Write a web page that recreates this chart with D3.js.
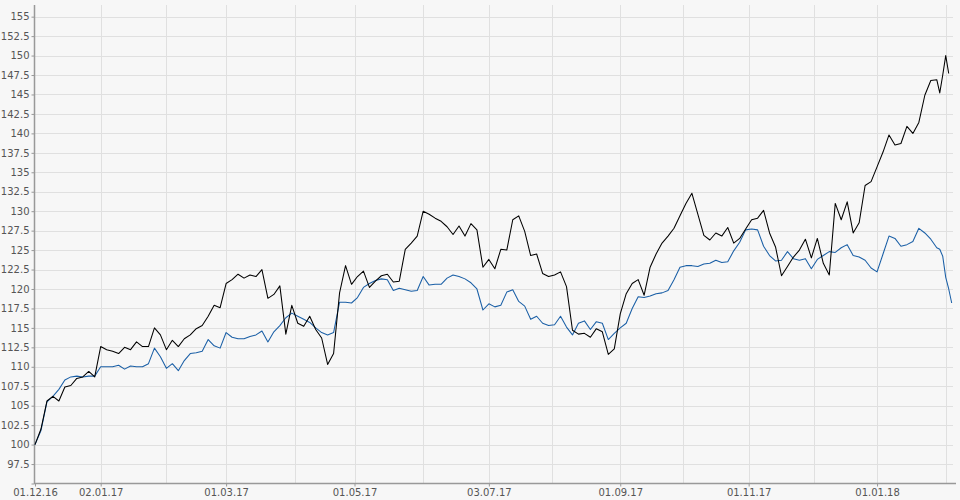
<!DOCTYPE html>
<html><head><meta charset="utf-8">
<script src="https://cdn.jsdelivr.net/npm/d3@7"></script>
<style>body{margin:0;background:#f7f7f7;} svg{display:block}</style>
</head><body><svg id="c" width="960" height="500"></svg>
<script>
// weekday index (0 = 01.12.16) of each sampled point
const days = [0,2,4,6,8,10,12,14,16,18,20,22,24,26,28,30,32,34,36,38,40,42,44,46,48,50,52,54,56,58,
60,62,64,66,68,70,72,74,76,78,80,82,84,86,88,90,92,94,96,98,100,102,104,106,108,110,112,114,116,118,
120,122,124,126,128,130,132,134,136,138,140,142,144,146,148,150,152,154,156,158,160,162,164,166,168,170,172,174,176,178,
180,182,184,186,188,190,192,194,196,198,200,202,204,206,208,210,212,214,216,218,220,222,224,226,228,230,232,234,236,238,
240,242,244,246,248,250,252,254,256,258,260,262,264,266,268,270,272,274,276,278,280,282,284,286,288,290,292,294,296,298,
300,302,303,304,305,306,307];
const seriesBlack = [
100.0,102.0,105.6,106.2,105.6,107.4,107.6,108.5,108.7,109.4,
108.7,112.6,112.2,112.0,111.7,112.5,112.2,113.2,112.6,112.6,
115.0,114.1,112.2,113.4,112.6,113.6,114.1,114.9,115.3,116.5,
117.9,117.6,120.7,121.2,121.9,121.4,121.8,121.6,122.5,118.8,
119.3,120.4,114.2,117.9,115.6,115.2,116.5,114.8,113.7,110.3,
111.7,119.5,123.0,120.6,121.6,122.3,120.2,121.0,121.7,121.9,
120.9,121.0,125.1,125.9,126.8,130.0,129.6,129.1,128.7,128.0,
127.0,128.1,126.8,128.4,127.6,122.8,123.8,122.6,125.1,125.0,
128.9,129.4,127.4,124.3,124.5,122.0,121.6,121.8,122.2,120.3,
114.7,114.2,114.3,113.8,114.9,114.5,111.6,112.3,116.8,119.4,
120.7,121.2,119.2,122.8,124.5,125.9,126.8,127.8,129.4,131.0,
132.3,129.6,126.9,126.3,127.2,126.8,127.9,125.9,126.5,127.7,
128.9,129.1,130.1,127.2,125.4,121.7,122.9,124.1,125.0,126.4,
124.0,126.5,123.3,121.8,131.0,128.9,131.2,127.2,128.5,133.3,
133.8,135.7,137.6,139.8,138.5,138.7,140.9,140.0,141.4,144.9,
146.8,146.9,145.2,147.5,150.0,147.7,null];
const seriesBlue = [
100.0,101.8,105.5,106.2,107.1,108.3,108.7,108.8,108.7,108.8,
108.8,110.0,110.0,110.0,110.2,109.7,110.1,110.0,110.0,110.4,
112.4,111.3,109.8,110.4,109.5,110.8,111.7,111.8,112.0,113.5,
112.7,112.4,114.4,113.8,113.6,113.6,113.9,114.1,114.6,113.2,
114.5,115.3,116.3,116.9,116.5,116.1,115.7,115.0,114.4,114.1,
114.4,118.3,118.3,118.2,118.9,120.2,120.7,121.1,121.3,121.2,
119.8,120.1,119.9,119.7,119.8,121.6,120.5,120.6,120.6,121.4,
121.8,121.6,121.3,120.8,120.0,117.3,118.1,117.7,117.9,119.6,
119.9,118.4,117.8,116.1,116.5,115.6,115.3,115.4,116.5,115.1,
114.1,115.6,115.9,114.8,115.8,115.6,113.5,114.3,115.0,115.6,
117.5,119.0,118.9,119.1,119.4,119.5,119.8,121.2,122.8,123.0,
123.0,122.9,123.2,123.3,123.7,123.4,123.5,124.9,126.0,127.6,
127.7,127.6,125.5,124.3,123.6,123.7,124.8,123.9,123.7,123.9,
122.6,123.8,124.3,124.8,124.7,125.3,125.7,124.3,124.1,123.7,
122.7,122.2,124.5,126.8,126.5,125.5,125.7,126.1,127.8,127.2,
126.4,125.3,125.1,124.2,121.5,120.0,118.2];
// first weekday of each month (gridlines)
const monthDays = [22,44,64,87,107,130,152,173,196,217,239,261,282,305];
const tickDays = [0,22,64,107,152,196,239,282];
const tickLabels = ["01.12.16","02.01.17","01.03.17","01.05.17","03.07.17","01.09.17","01.11.17","01.01.18"];
const yTicks = [95,97.5,100,102.5,105,107.5,110,112.5,115,117.5,120,122.5,125,127.5,130,132.5,135,137.5,140,142.5,145,147.5,150,152.5,155];

(function(){
const svg = d3.select("#c");
const pL = 34.5, pR = 953, pT = 5, pB = 483.5;
const x = d3.scaleLinear().domain([0,307]).range([35, 35+307*2.986]);
const y = d3.scaleLinear().domain([95,156.5]).range([pB, pT]);

svg.append("rect").attr("width",960).attr("height",500).attr("fill","#f7f7f7");

const grid = svg.append("g").attr("stroke","#e0e0e0").attr("stroke-width",1).attr("shape-rendering","crispEdges");
grid.selectAll("line.h").data(yTicks.slice(1)).join("line").attr("class","h")
  .attr("x1",pL).attr("x2",pR).attr("y1",d=>Math.round(y(d))+0.5).attr("y2",d=>Math.round(y(d))+0.5);
grid.selectAll("line.v").data(monthDays).join("line").attr("class","v")
  .attr("y1",pT).attr("y2",pB).attr("x1",d=>Math.round(x(d))+0.5).attr("x2",d=>Math.round(x(d))+0.5);

const font = "'DejaVu Sans', Verdana, sans-serif";
const yAxis = d3.axisLeft(y).tickValues(yTicks).tickSize(3).tickPadding(2)
  .tickFormat(d => d===95 ? "" : String(d));
const gy = svg.append("g").attr("transform",`translate(${pL},0)`).call(yAxis);
const xAxis = d3.axisBottom(x).tickValues(tickDays).tickSize(3).tickPadding(2.5)
  .tickFormat((d,i)=>tickLabels[i]);
const gx = svg.append("g").attr("transform",`translate(0,${pB})`).call(xAxis);
[gy,gx].forEach(g=>{
  g.select(".domain").remove();
  g.selectAll(".tick line").attr("stroke","#999");
  g.selectAll(".tick text").attr("fill","#555").style("font-family",font).style("font-size","10px");
});
svg.append("line").attr("x1",pL).attr("x2",pL).attr("y1",pT).attr("y2",pB+0.5)
  .attr("stroke","#999").attr("stroke-width",1.5);
svg.append("line").attr("x1",pL).attr("x2",956).attr("y1",pB).attr("y2",pB)
  .attr("stroke","#999").attr("stroke-width",1.5);

const mk = vals => days.map((d,i)=>({d, v: vals[i]}));
const line = d3.line().defined(p=>p.v!=null).x(p=>x(p.d)).y(p=>y(p.v));
svg.append("path").datum(mk(seriesBlue)).attr("d",line).attr("fill","none")
  .attr("stroke","#1a5fa6").attr("stroke-width",1.05).attr("stroke-linejoin","round");
svg.append("path").datum(mk(seriesBlack)).attr("d",line).attr("fill","none")
  .attr("stroke","#000").attr("stroke-width",1.05).attr("stroke-linejoin","round");
})();
</script></body></html>
